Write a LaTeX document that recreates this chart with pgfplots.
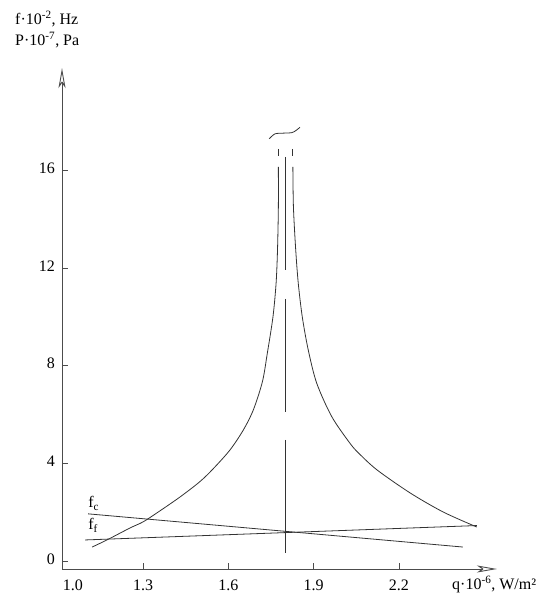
\documentclass[border=0pt]{standalone}
\usepackage{fontspec}
\setmainfont{Liberation Serif}
\usepackage{pgfplots}
\pgfplotsset{compat=1.18}
\usetikzlibrary{arrows.meta}

\begin{document}
\fontsize{16}{19}\selectfont
\begin{tikzpicture}
\begin{axis}[
  at={(0pt,0pt)}, anchor=south west,
  scale only axis, width=435pt, height=501pt,
  xmin=1.015, xmax=2.545, ymin=-0.33, ymax=20.2,
  axis lines=left,
  axis line style={draw=black!70, line width=0.9pt,
    -{Stealth[open, length=20pt, width=7pt, inset=5pt]}},
  xtick={1.3,1.6,1.9,2.2}, ytick={0,4,8,12,16},
  tick align=inside, major tick length=6pt,
  tick style={black!70, line width=0.8pt},
  /pgf/number format/assume math mode=true,
  /pgf/number format/fixed, /pgf/number format/precision=1,
  xticklabel style={anchor=north, inner sep=0pt, yshift=-11pt, font=\fontsize{16}{19}\selectfont},
  yticklabel style={anchor=east, inner sep=0pt, xshift=-7pt, yshift=2pt, font=\fontsize{16}{19}\selectfont},
  clip=false,
]
% resonance curve, left branch
\addplot[black!80, line width=0.8pt, smooth, tension=0.5] coordinates {
  (1.121,0.57) (1.173,0.86) (1.254,1.35) (1.300,1.60) (1.349,1.97)
  (1.430,2.62) (1.500,3.25) (1.547,3.78) (1.606,4.55) (1.653,5.37)
  (1.688,6.19) (1.720,7.35) (1.737,8.50) (1.757,10.00) (1.768,11.38)
  (1.773,12.75) (1.776,14.5) (1.776,16.15)};
% resonance curve, right branch
\addplot[black!80, line width=0.8pt, smooth, tension=0.5] coordinates {
  (1.827,16.15) (1.829,14.5) (1.837,12.75) (1.846,11.38) (1.860,10.01)
  (1.881,8.65) (1.911,7.28) (1.964,5.91) (2.028,4.82) (2.060,4.40)
  (2.123,3.73) (2.239,2.79) (2.355,2.01) (2.474,1.39)};
% continuation dashes above the branches
\addplot[black!80, line width=0.8pt] coordinates {(1.776,16.89) (1.776,16.60)};
\addplot[black!80, line width=0.8pt] coordinates {(1.827,16.89) (1.827,16.60)};
% broken centre line at q = 1.8
\addplot[black!80, line width=0.8pt] coordinates {(1.8,16.56) (1.8,11.93)};
\addplot[black!80, line width=0.8pt] coordinates {(1.8,10.74) (1.8,6.11)};
\addplot[black!80, line width=0.8pt] coordinates {(1.8,4.96) (1.8,0.33)};
% break mark (tilde)
\addplot[black!80, line width=0.8pt, smooth] coordinates {
  (1.744,17.30) (1.764,17.50) (1.793,17.53) (1.823,17.55) (1.838,17.64) (1.852,17.77)};
% frequency lines
\addplot[black!80, line width=0.8pt] coordinates {(1.107,1.93) (2.425,0.57)};
\addplot[black!80, line width=0.8pt] coordinates {(1.096,0.86) (2.474,1.45)};
% labels
\node[anchor=base west, inner sep=0pt] at (axis cs:1.107,2.17) {f\textsubscript{c}};
\node[anchor=base west, inner sep=0pt] at (axis cs:1.107,1.27) {f\textsubscript{f}};
\end{axis}
\node[anchor=north, inner sep=0pt] at (11pt,-11pt) {1.0};
\node[anchor=base west, inner sep=0pt] at (-47pt,544pt) {f·10\textsuperscript{-2}, Hz};
\node[anchor=base west, inner sep=0pt] at (-47pt,523pt) {P·10\textsuperscript{-7}, Pa};
\node[anchor=base west, inner sep=0pt] at (390pt,-21pt) {q·10\textsuperscript{-6}, W/m²};
\pgfresetboundingbox
\path (-62pt,-32pt) rectangle (486pt,569pt);
\end{tikzpicture}
\end{document}
